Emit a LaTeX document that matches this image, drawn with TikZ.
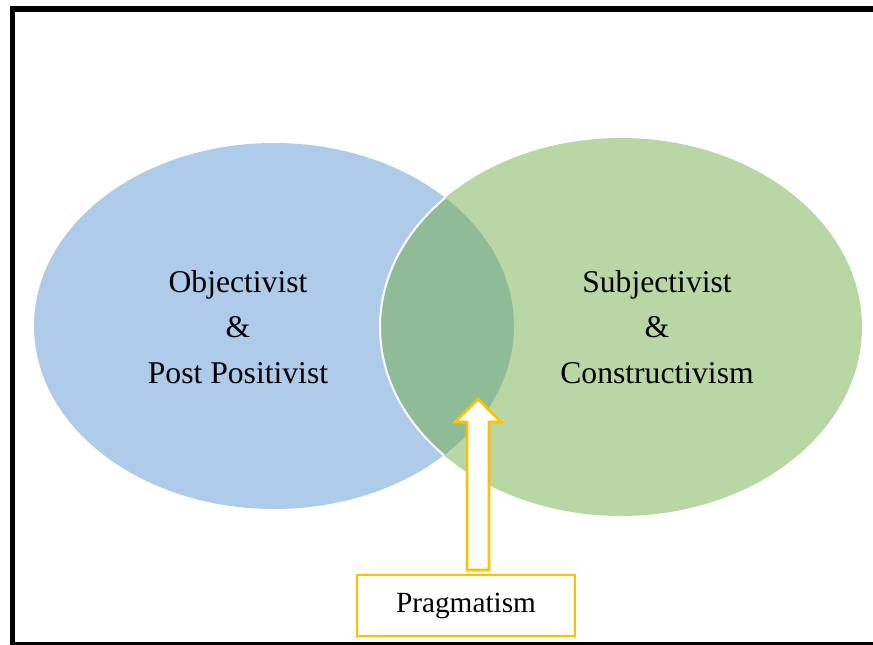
\documentclass[tikz,border=0pt]{standalone}
\usepackage{fontspec}
\setmainfont{Liberation Serif}
\definecolor{objblue}{RGB}{174,203,233}
\definecolor{subgreen}{RGB}{185,215,165}
\definecolor{midgreen}{RGB}{143,188,150}
\definecolor{pragorange}{RGB}{255,192,0}
\tikzset{
  label/.style={font=\fontsize{27}{32}\selectfont, anchor=base},
  pragbox/.style={draw=pragorange, line width=2.2pt, fill=white,
    minimum width=6.54cm, minimum height=1.83cm, font=\fontsize{25}{30}\selectfont}
}
\begin{document}
\begin{tikzpicture}[x=0.03cm, y=-0.03cm]
        \useasboundingbox (0,0) rectangle (873,644);
        % frame
        \draw[line width = 4.5pt] (900, 9) -- (12.5, 9) -- (12.5, 644.5) -- (900, 644.5);
        % the two views
        \fill[objblue] (274, 326) ellipse [x radius=240, y radius=183];
        \fill[subgreen] (621, 327) ellipse [x radius=241, y radius=189];
        \begin{scope}
        \clip (274, 326) ellipse [x radius=240, y radius=183];
        \fill[midgreen] (621, 327) ellipse [x radius=241, y radius=189];
        \draw[white, line width = 1.7pt] (621, 327) ellipse [x radius=241, y radius=189];
        \end{scope}
	\node[label] (obj1) at (238, 292) {Objectivist};
	\node[label] (obj2) at (238, 337) {\&};
	\node[label] (obj3) at (238, 383) {Post Positivist};
	\node[label] (sub1) at (657, 292) {Subjectivist};
	\node[label] (sub2) at (657, 337) {\&};
	\node[label] (sub3) at (657, 383) {Constructivism};
        % pragmatism
	\node[pragbox] (prag) at (466, 605.5) {Pragmatism};
        \draw[pragorange, line width = 2.2pt, fill=white, line join=miter]
          (467, 570) -- (467, 422) -- (455, 422) -- (478, 399) -- (501, 422)
          -- (489, 422) -- (489, 570) -- cycle;
	\end{tikzpicture}
\end{document}
